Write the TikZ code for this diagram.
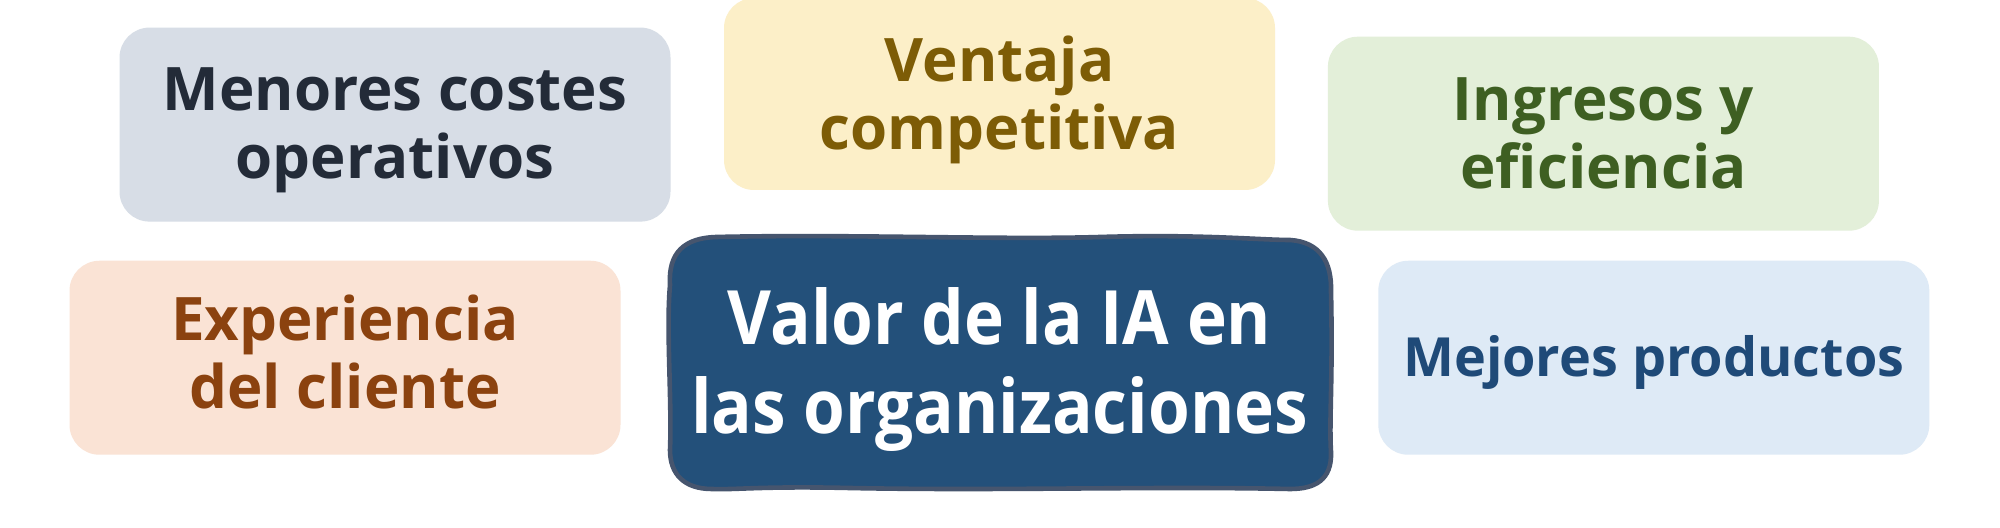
\documentclass[tikz,border=0pt]{standalone}
\usepackage{fontspec}
\setmainfont{Open Sans}[Ligatures=NoCommon]
\newfontfamily\corefont{Open Sans}[Ligatures=NoCommon, FakeStretch=0.9]
\definecolor{menF}{HTML}{D7DDE6}\definecolor{menT}{HTML}{232B38}
\definecolor{venF}{HTML}{FCEFC8}\definecolor{venT}{HTML}{7D5C06}
\definecolor{ingF}{HTML}{E3EFD9}\definecolor{ingT}{HTML}{3E5F22}
\definecolor{expF}{HTML}{FAE3D5}\definecolor{expT}{HTML}{8B420F}
\definecolor{mejF}{HTML}{DEEAF6}\definecolor{mejT}{HTML}{1F4A78}
\definecolor{coreF}{HTML}{23507A}\definecolor{coreD}{HTML}{46556E}
\tikzset{
  benefit/.style={rounded corners=15pt, inner sep=0pt, align=center,
    minimum width=275.5pt, minimum height=97pt,
    font=\fontsize{30}{34}\selectfont\bfseries},
  coretext/.style={inner sep=0pt, align=center, text=white,
    font=\corefont\fontsize{37.5}{44.5}\selectfont\bfseries}
}
\begin{document}
\begin{tikzpicture}[x=0.5pt,y=-0.5pt]
\useasboundingbox[fill=white] (0,0) rectangle (2000,528);
\node[benefit, fill=menF, text=menT] (men) at (395,124.6) {\rule{0pt}{27pt}Menores costes\\operativos};
\node[benefit, fill=venF, text=venT, minimum height=96pt] (ven) at (999.5,94) {\rule{0pt}{28.5pt}Ventaja\\competitiva};
\node[benefit, fill=ingF, text=ingT] (ing) at (1603.4,133.7) {Ingresos y\\eficiencia};
\node[benefit, fill=expF, text=expT] (exp) at (345,357.75) {Experiencia\\del cliente\rule[-6pt]{0pt}{0pt}};
\node[benefit, fill=mejF, text=mejT, font=\fontsize{27}{30}\selectfont\bfseries] (mej) at (1653.8,357.75) {\rule{0pt}{25.5pt}Mejores productos};
\draw[line width=2.3pt, draw=coreD, fill=coreF]
  (670,285) .. controls (668,252) and (685,238) .. (716,237)
  .. controls (850,234) and (1000,240) .. (1100,237)
  .. controls (1200,234) and (1260,240) .. (1290,240)
  .. controls (1320,242) and (1332,262) .. (1331,292)
  .. controls (1333,380) and (1329,420) .. (1331,452)
  .. controls (1332,480) and (1315,489) .. (1290,489)
  .. controls (1150,486) and (1000,491) .. (850,488)
  .. controls (760,486) and (735,490) .. (712,489)
  .. controls (684,489) and (670,474) .. (670,450)
  .. controls (672,400) and (666,330) .. cycle;
\node[coretext] (core) at (999.5,370) {Valor de la IA en\\las organizaciones};
\end{tikzpicture}
\end{document}
